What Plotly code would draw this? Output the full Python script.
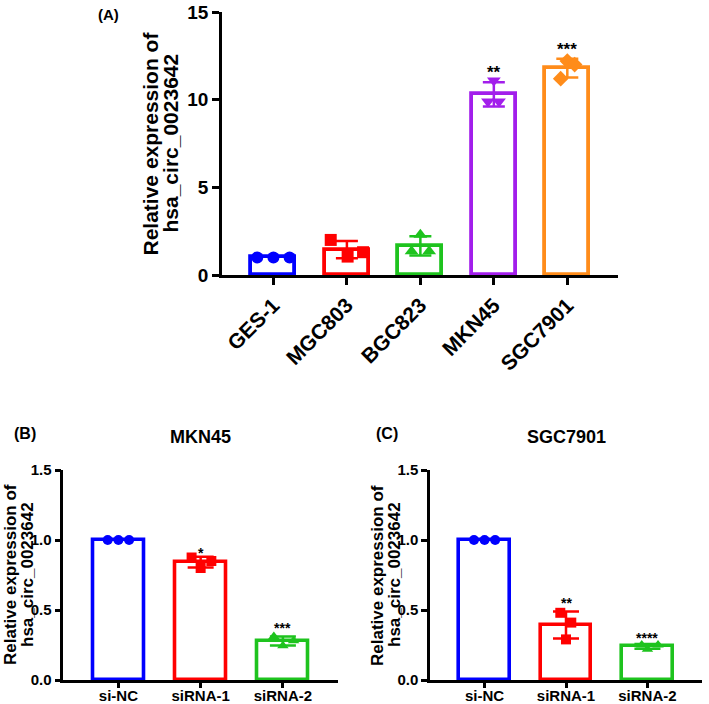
import numpy as np
import plotly.graph_objects as go

W, H = 709, 704

# ---------------- data ----------------
cells_a = ["GES-1", "MGC803", "BGC823", "MKN45", "SGC7901"]
reps_a = [
    [1.0, 1.0, 1.0],
    [2.0, 1.05, 1.3],
    [1.35, 2.3, 1.35],
    [9.9, 11.1, 9.9],
    [11.2, 12.2, 12.0],
]
stars_a = ["", "", "", "**", "***"]

groups_bc = ["si-NC", "siRNA-1", "siRNA-2"]
reps_b = [
    [1.0, 1.0, 1.0],
    [0.875, 0.80, 0.85],
    [0.31, 0.245, 0.28],
]
stars_b = ["", "*", "***"]
reps_c = [
    [1.0, 1.0, 1.0],
    [0.48, 0.29, 0.41],
    [0.25, 0.22, 0.25],
]
stars_c = ["", "**", "****"]

yticks_a = [0, 5, 10, 15]
yticks_bc = [0.0, 0.5, 1.0, 1.5]
yticktext_bc = ["0.0", "0.5", "1.0", "1.5"]

# ---------------- styles ----------------
colors_a = ["#0000FF", "#FF0000", "#1EC31E", "#A21EEB", "#FF8C1A"]
symbols_a = ["circle", "square", "triangle-up", "triangle-down", "diamond"]
jitter_a = [[-0.22, 0.0, 0.22], [-0.22, 0.01, 0.22], [-0.12, 0.0, 0.12],
            [-0.08, 0.0, 0.07], [-0.09, 0.0, 0.1]]
colors_bc = ["#0000FF", "#FF0000", "#1EC31E"]
symbols_bc = ["circle", "square", "triangle-up"]
jitter_b = [[-0.13, 0.0, 0.13], [-0.11, 0.0, 0.13], [-0.11, 0.0, 0.13]]
jitter_c = [[-0.13, 0.0, 0.13], [-0.07, 0.0, 0.065], [-0.07, 0.0, 0.13]]

FONT = "Liberation Sans, Arial, sans-serif"


def px(x):
    return x / W


def py(y):
    return 1 - y / H


fig = go.Figure()
annotations = []


def add_panel(xa, ya, reps, colors, symbols, jitter, stars, bar_w, line_w,
              err_w, msize, star_size, star_shift):
    xs = "x" if xa == 1 else f"x{xa}"
    ys = "y" if ya == 1 else f"y{ya}"
    for i, vals in enumerate(reps):
        m = float(np.mean(vals))
        sd = float(np.std(vals, ddof=1))
        fig.add_trace(go.Bar(
            x=[i], y=[m], width=bar_w, xaxis=xs, yaxis=ys,
            marker=dict(color="rgba(255,255,255,1)",
                        line=dict(color=colors[i], width=line_w)),
            error_y=dict(type="data", array=[sd], visible=sd > 0,
                         color=colors[i], thickness=2.5, width=err_w),
            showlegend=False, hoverinfo="skip",
        ))
        fig.add_trace(go.Scatter(
            x=[i + j for j in jitter[i]], y=vals, mode="markers",
            xaxis=xs, yaxis=ys,
            marker=dict(symbol=symbols[i], size=msize, color=colors[i],
                        line=dict(width=0)),
            showlegend=False, hoverinfo="skip", cliponaxis=False,
        ))
        if stars[i]:
            annotations.append(dict(
                x=i, y=m + sd, xref=xs, yref=ys, text=stars[i],
                showarrow=False, yanchor="bottom", yshift=star_shift[i],
                font=dict(family=FONT, size=star_size, color="black",
                          weight="bold"),
            ))


add_panel(1, 1, reps_a, colors_a, symbols_a, jitter_a, stars_a,
          0.6, 3.8, 11, 12, 17, [0, 0, 0, -2, -2])
add_panel(2, 2, reps_b, colors_bc, symbols_bc, jitter_b, stars_b,
          0.62, 3.6, 13, 10, 14, [0, -6, -2])
add_panel(3, 3, reps_c, colors_bc, symbols_bc, jitter_c, stars_c,
          0.62, 3.6, 13, 10, 14, [0, -2, -4])

axis_common = dict(showline=True, linecolor="black", linewidth=2.5,
                   ticks="outside", tickcolor="black", tickwidth=2.5,
                   showgrid=False, zeroline=False, fixedrange=True,
                   automargin=False)

tick_bc = dict(family=FONT, size=15, color="black", weight="bold")

layout = dict(
    template="none",
    width=W, height=H, autosize=False,
    margin=dict(l=0, r=0, t=0, b=0, pad=0),
    paper_bgcolor="white", plot_bgcolor="white", bargap=0,
    xaxis=dict(domain=[px(222), px(618)], range=[-0.7, 4.69],
               tickvals=list(range(len(cells_a))), ticktext=cells_a,
               tickangle=-45, ticklen=7, anchor="y",
               tickfont=dict(family=FONT, size=21, color="black", weight="bold"),
               **axis_common),
    yaxis=dict(domain=[py(275), py(12)], range=[0, 15], tickvals=yticks_a,
               ticklen=7, anchor="x",
               tickfont=dict(family=FONT, size=19, color="black", weight="bold"),
               **axis_common),
    xaxis2=dict(domain=[px(63.3), px(338)], range=[-0.67, 2.67],
                tickvals=list(range(3)), ticktext=groups_bc, ticklen=5,
                ticklabelstandoff=-5,
                anchor="y2", tickfont=tick_bc, **axis_common),
    yaxis2=dict(domain=[py(680), py(470)], range=[0, 1.5], tickvals=yticks_bc,
                ticktext=yticktext_bc, ticklen=6, anchor="x2",
                tickfont=tick_bc, **axis_common),
    xaxis3=dict(domain=[px(430), px(702)], range=[-0.67, 2.67],
                tickvals=list(range(3)), ticktext=groups_bc, ticklen=5,
                ticklabelstandoff=-5,
                anchor="y3", tickfont=tick_bc, **axis_common),
    yaxis3=dict(domain=[py(680), py(470)], range=[0, 1.5], tickvals=yticks_bc,
                ticktext=yticktext_bc, ticklen=6, anchor="x3",
                tickfont=tick_bc, **axis_common),
)


def text_ann(x, y, text, size, angle=0, family=FONT):
    return dict(x=px(x), y=py(y), xref="paper", yref="paper", text=text,
                showarrow=False, xanchor="center", yanchor="middle",
                textangle=angle,
                font=dict(family=family, size=size, color="black", weight="bold"))


annotations += [
    text_ann(150, 143.5, "Relative expression of", 21, -90),
    text_ann(170, 143.5, "hsa_circ_0023642", 21, -90),
    text_ann(10, 575, "Relative expression of", 17, -90),
    text_ann(27, 575, "hsa_circ_0023642", 17, -90),
    text_ann(377, 575, "Relative expression of", 17, -90),
    text_ann(394, 575, "hsa_circ_0023642", 17, -90),
    text_ann(200, 437, "MKN45", 18),
    text_ann(566.7, 437, "SGC7901", 18),
    text_ann(108, 14, "(A)", 15),
    text_ann(25, 433, "(B)", 16),
    text_ann(386.7, 433, "(C)", 16),
]
layout["annotations"] = annotations
fig.update_layout(**layout)
fig.write_html(
    "out.html",
    config={"displayModeBar": False},
    post_script=("document.body.style.margin='0';"
                 "document.body.style.padding='0';"
                 "document.documentElement.style.overflow='hidden';"),
)
